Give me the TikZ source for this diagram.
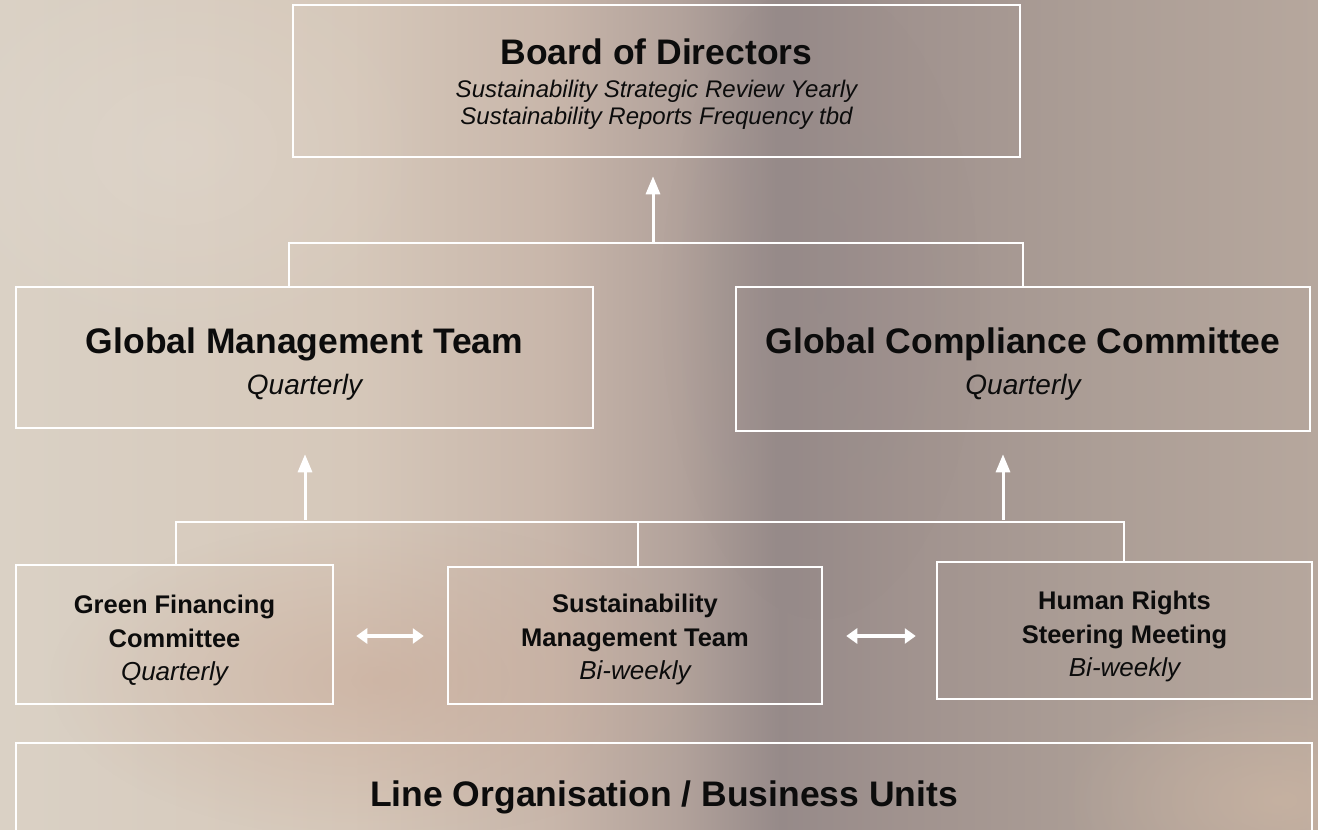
\documentclass[tikz,border=0pt]{standalone}
\usepackage{fontspec}
\setmainfont{Liberation Sans}
\usetikzlibrary{arrows.meta,fadings}
\definecolor{bgA}{RGB}{218,209,197}
\definecolor{bgB}{RGB}{214,200,186}
\definecolor{bgC}{RGB}{200,182,170}
\definecolor{bgD}{RGB}{178,162,155}
\definecolor{bgE}{RGB}{150,138,137}
\definecolor{bgF}{RGB}{160,146,142}
\definecolor{bgG}{RGB}{172,158,150}
\definecolor{bgH}{RGB}{182,167,157}
\definecolor{pinkish}{RGB}{200,168,150}
\definecolor{tan}{RGB}{208,184,164}
\definecolor{ink}{RGB}{12,12,12}
\pgfdeclarehorizontalshading{bgshade}{100bp}{color(0bp)=(bgA); color(25bp)=(bgA); color(38.3bp)=(bgB); color(45.9bp)=(bgC); color(50.8bp)=(bgD); color(54.6bp)=(bgE); color(59.1bp)=(bgF); color(66.7bp)=(bgG); color(75bp)=(bgH); color(100bp)=(bgH)}
\tikzfading[name=blob, inner color=transparent!0, outer color=transparent!100]
\tikzset{
  box/.style={draw=white, line width=2.5pt, inner sep=0pt, align=center, text=ink},
  up/.style={draw=white, line width=3pt, -{Triangle[width=14pt,length=18pt]}},
  both/.style={draw=white, line width=3.5pt, {Triangle[width=15pt,length=11pt]}-{Triangle[width=15pt,length=11pt]}},
  conn/.style={draw=white, line width=2.5pt}
}
\newcommand{\tl}[1]{{\fontsize{35.5}{40}\selectfont\bfseries #1}}
\newcommand{\st}[1]{{\fontsize{24}{27}\selectfont\itshape #1}}
\newcommand{\sm}[1]{{\fontsize{25.5}{33.5}\selectfont\bfseries #1}}
\newcommand{\si}[1]{{\fontsize{26}{33.5}\selectfont\itshape #1}}
\newcommand{\dn}[1]{\rule{0pt}{#1pt}}
\begin{document}
\begin{tikzpicture}[x=1pt,y=-1pt]
\useasboundingbox (0,0) rectangle (1318,830);
\shade[shading=bgshade] (0,0) rectangle (1318,830);
\fill[pinkish, path fading=blob, opacity=0.55] (380,680) ellipse (330 and 160);
\fill[bgE, path fading=blob, opacity=0.35] (820,300) ellipse (160 and 320);
\fill[tan, path fading=blob, opacity=0.6] (1280,800) ellipse (220 and 120);
\fill[white, path fading=blob, opacity=0.12] (180,150) ellipse (260 and 200);

\node[box, font=\fontsize{24}{27}\selectfont, minimum width=727pt, minimum height=152pt] (bod) at (656.5,81)
  {\dn{32}\tl{Board of Directors}\\[6pt]\st{Sustainability Strategic Review Yearly}\\\st{Sustainability Reports Frequency tbd}};
\node[box, font=\fontsize{28}{41}\selectfont, minimum width=577pt, minimum height=141pt] (gmt) at (304.5,357.5)
  {\dn{39}\tl{Global Management Team}\\{\itshape Quarterly}};
\node[box, font=\fontsize{28}{41}\selectfont, minimum width=574pt, minimum height=144pt] (gcc) at (1023,359)
  {\dn{35}\tl{Global Compliance Committee}\\{\itshape Quarterly}};
\node[box, font=\fontsize{26}{33.5}\selectfont, minimum width=317pt, minimum height=139pt] (gfc) at (174.5,634.5)
  {\dn{31}\sm{Green Financing}\\\sm{Committee}\\\si{Quarterly}};
\node[box, font=\fontsize{26}{33.5}\selectfont, minimum width=374pt, minimum height=137pt] (smt) at (635,635.5)
  {\dn{27}\sm{Sustainability}\\\sm{Management Team}\\\si{Bi-weekly}};
\node[box, font=\fontsize{26}{33.5}\selectfont, minimum width=375pt, minimum height=137pt] (hrs) at (1124.5,630.5)
  {\dn{30.5}\sm{Human Rights}\\\sm{Steering Meeting}\\\si{Bi-weekly}};
\node[box, minimum width=1296pt, minimum height=110pt, text depth=0pt] (lob) at (664,798)
  {\raisebox{8pt}{\tl{Line Organisation / Business Units}}};

% top level connector
\coordinate (j1) at (653,243);
\draw[conn] (gmt.north -| 289,0) -- (289,243) -- (1023,243) -- (gcc.north);
\draw[up] (j1) -- ([yshift=-18pt]bod.south -| j1);
% bottom connector
\draw[conn] (gfc.north -| 176,0) -- (176,522) -- (1124,522) -- (hrs.north -| 1124,0);
\draw[conn] (smt.north -| 638,0) -- (638,522);
\coordinate (j2) at (305,522);
\coordinate (j3) at (1003,522);
\draw[up] ([yshift=2pt]j2) -- ([yshift=-25pt]gmt.south -| j2);
\draw[up] ([yshift=2pt]j3) -- ([yshift=-22pt]gcc.south -| j3);
% double arrows
\draw[both] ([xshift=22pt]gfc.east |- 0,636) -- ([xshift=-23pt]smt.west |- 0,636);
\draw[both] ([xshift=23pt]smt.east |- 0,636) -- ([xshift=-20pt]hrs.west |- 0,636);
\end{tikzpicture}
\end{document}
